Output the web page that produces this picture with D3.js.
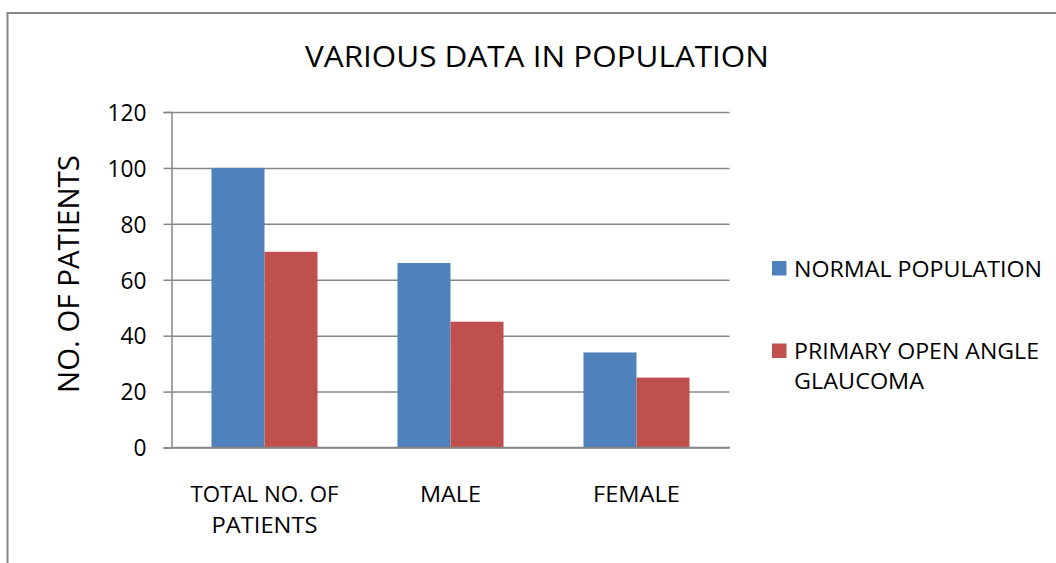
<!DOCTYPE html>
<html lang="en">
<head>
    <meta charset="UTF-8">
    <title>Various data in population</title>
    <script src="https://cdn.jsdelivr.net/npm/d3@7/dist/d3.min.js"></script>
    <style>
        body { margin: 0; background: #fff; }
        text { font-family: "Open Sans", "Noto Sans", sans-serif; fill: #000; }
    </style>
</head>
<body>
<svg width="1056" height="563" id="main"></svg>
<script>

    // data
    const categories = [["TOTAL NO. OF", "PATIENTS"], ["MALE"], ["FEMALE"]];
    const seriesNames = ["NORMAL POPULATION", "PRIMARY OPEN ANGLE GLAUCOMA"];
    const normalPopulation = [100, 66, 34];
    const poag = [70, 45, 25];
    const yTicks = [0, 20, 40, 60, 80, 100, 120];
    const colors = ["#4F81BD", "#C0504D"];

    draw();

    function fit(sel, w) {
        // squeeze the text to the width measured on the reference
        sel.attr("textLength", w).attr("lengthAdjust", "spacingAndGlyphs");
    }

    function draw() {
        let svg = d3.select('#main');
        let margin = {top: 112, right: 326.5, bottom: 115, left: 171.5};
        let width = 1056, height = 563;
        let grey = "#868686";

        // chart border (runs off the right and bottom of the picture)
        svg.append("rect")
            .attr("x", 7.5).attr("y", 13)
            .attr("width", 1100).attr("height", 600)
            .attr("fill", "none")
            .attr("stroke", grey)
            .attr("stroke-width", 2);

        let keys = categories.map(d => d.join(" "));
        let x0 = d3.scaleBand()
            .domain(keys)
            .range([margin.left, width - margin.right])
            .paddingInner(0.43)
            .paddingOuter(0.215);
        let x1 = d3.scaleBand()
            .domain([0, 1])
            .range([0, x0.bandwidth()]);
        let y = d3.scaleLinear()
            .domain([0, 120])
            .range([height - margin.bottom - 0.5, margin.top]);

        // gridlines + y axis
        let yAxis = g => g
            .attr("transform", `translate(${margin.left},0)`)
            .call(d3.axisLeft(y).tickValues(yTicks).tickSize(8).tickPadding(17))
            .call(g => g.select(".domain").attr("stroke", grey).attr("stroke-width", 1.5))
            .call(g => g.selectAll(".tick line").attr("stroke", grey).attr("stroke-width", 1.5))
            .call(g => g.selectAll(".tick line").clone()
                .attr("x1", 0)
                .attr("x2", width - margin.right - margin.left)
                .attr("stroke", grey).attr("stroke-width", 1.5))
            .call(g => g.selectAll(".tick text")
                .attr("font-size", 23)
                .attr("font-family", null)
                .attr("dy", "0.36em")
                .each(function (d) { fit(d3.select(this), String(d).length * 13); }));
        svg.append("g").call(yAxis);

        let rows = keys.map((k, i) => ({key: k, values: [normalPopulation[i], poag[i]]}));
        svg.append("g")
            .selectAll("g")
            .data(rows)
            .join("g")
            .attr("transform", d => `translate(${x0(d.key)},0)`)
            .selectAll("rect")
            .data(d => d.values.map((v, i) => ({i, v})))
            .join("rect")
            .attr("x", d => x1(d.i))
            .attr("width", x1.bandwidth())
            .attr("y", d => y(d.v))
            .attr("height", d => y(0) - y(d.v))
            .attr("fill", d => colors[d.i]);

        // x axis line
        svg.append("line")
            .attr("x1", margin.left).attr("x2", width - margin.right + 0.5)
            .attr("y1", y(0)).attr("y2", y(0))
            .attr("stroke", grey).attr("stroke-width", 1.5);

        // category labels
        const labelWidths = [[148, 106], [61], [87]];
        categories.forEach((lines, i) => {
            lines.forEach((t, j) => {
                svg.append("text")
                    .attr("x", x0(keys[i]) + x0.bandwidth() / 2)
                    .attr("y", 502 + j * 31)
                    .attr("text-anchor", "middle")
                    .attr("font-size", 22.5)
                    .text(t)
                    .call(fit, labelWidths[i][j]);
            });
        });

        // title
        svg.append("text")
            .attr("x", 537).attr("y", 67)
            .attr("text-anchor", "middle")
            .attr("font-size", 30)
            .text("VARIOUS DATA IN POPULATION")
            .call(fit, 464);

        // y title
        svg.append("text")
            .attr("transform", "translate(79,274) rotate(-90)")
            .attr("text-anchor", "middle")
            .attr("font-size", 29)
            .text("NO. OF PATIENTS")
            .call(fit, 238);

        // legend
        let legend = svg.append("g").attr("transform", "translate(772,261)");
        legend.append("rect").attr("width", 14.5).attr("height", 14.5).attr("fill", colors[0]);
        legend.append("text").attr("x", 22).attr("y", 15.5).attr("font-size", 22.5)
            .text(seriesNames[0]).call(fit, 248);
        legend.append("rect").attr("y", 82.5).attr("width", 14.5).attr("height", 14.5).attr("fill", colors[1]);
        legend.append("text").attr("x", 22).attr("y", 97.5).attr("font-size", 22.5)
            .text("PRIMARY OPEN ANGLE").call(fit, 245);
        legend.append("text").attr("x", 22).attr("y", 128).attr("font-size", 22.5)
            .text("GLAUCOMA").call(fit, 130);
    }
</script>
</body>
</html>
